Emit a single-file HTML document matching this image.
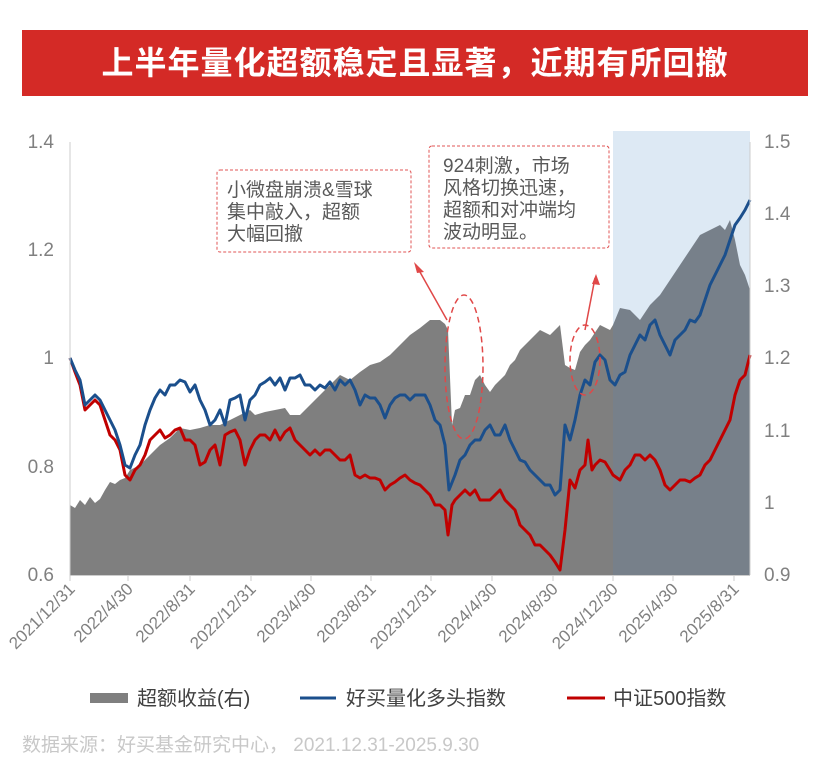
<!DOCTYPE html>
<html><head><meta charset="utf-8"><style>
body{margin:0;background:#fff;width:831px;height:776px;overflow:hidden;font-family:"Liberation Sans","Noto Sans CJK SC",sans-serif;}
.t{position:absolute;left:22px;top:30px;width:786px;height:66px;background:#d42a26;color:#fff;font-size:32px;font-weight:bold;text-align:center;line-height:66px;letter-spacing:1px}
</style></head><body>
<div class="t">上半年量化超额稳定且显著，近期有所回撤</div>
<svg width="831" height="776" style="position:absolute;left:0;top:0" font-family="Liberation Sans, Noto Sans CJK SC, sans-serif">
<rect x="613" y="131" width="137" height="444" fill="#dde9f4"/>
<defs><clipPath id="c1"><rect x="613" y="0" width="200" height="800"/></clipPath><clipPath id="c0"><rect x="0" y="0" width="613" height="800"/></clipPath></defs>
<g id="area">
<polygon clip-path="url(#c0)" fill="#7f7f7f" points="70,575 70,505 75,508 80,500 85,505 90,497 95,503 100,499 105,490 110,482 115,484 120,480 125,478 130,470 140,465 150,455 160,445 170,438 180,428 190,430 200,428 210,425 220,425 230,420 240,415 250,410 255,415 265,412 275,410 285,408 290,415 300,415 310,405 320,395 330,385 340,375 350,380 360,372 370,365 380,362 390,355 400,345 410,335 420,328 430,320 440,320 445,324 448,330 452,425 455,410 460,408 465,395 470,395 475,380 480,375 485,385 490,392 495,385 500,380 505,375 510,365 515,360 520,350 525,345 530,340 540,330 550,335 555,330 560,325 565,365 570,368 575,370 580,352 585,345 590,340 600,325 610,330 613,325 620,308 630,310 640,320 650,305 660,295 670,280 680,265 690,250 700,235 710,230 720,225 725,230 730,220 735,240 740,265 745,275 750,290 750,575"/>
<polygon clip-path="url(#c1)" fill="#77808a" points="70,575 70,505 600,325 610,330 613,325 620,308 630,310 640,320 650,305 660,295 670,280 680,265 690,250 700,235 710,230 720,225 725,230 730,220 735,240 740,265 745,275 750,290 750,575"/>
</g>
<polyline fill="none" stroke="#c00000" stroke-width="3" stroke-linejoin="round" points="70,358 75,372 80,385 85,410 90,405 95,400 100,405 105,420 110,435 115,440 120,450 125,475 130,480 135,470 140,465 145,455 150,440 155,435 160,430 165,438 170,435 175,430 180,428 185,440 190,440 195,445 200,465 205,462 210,450 215,445 220,465 225,435 230,432 235,430 240,440 245,465 250,450 255,440 260,435 265,435 270,440 275,430 280,440 285,432 290,428 295,440 300,445 305,450 310,455 315,450 320,455 325,450 330,450 335,455 340,460 345,460 350,455 355,475 360,478 365,475 370,478 375,478 380,480 385,490 390,485 395,482 400,478 405,475 410,480 415,483 420,485 425,490 430,495 435,505 440,505 445,510 448,535 452,505 455,500 460,495 465,490 470,495 475,490 480,500 485,500 490,500 495,495 500,490 505,500 510,505 515,510 520,525 525,530 530,535 535,545 540,545 545,550 550,555 555,562 560,570 565,530 570,480 575,488 580,470 585,465 588,440 592,470 595,465 600,460 605,462 610,470 613,475 620,480 625,470 630,465 635,455 640,455 645,460 650,455 655,460 660,470 665,485 670,490 675,485 680,480 685,480 690,482 695,478 700,475 705,465 710,460 715,450 720,440 725,430 730,420 735,395 740,380 745,375 750,355"/>
<polyline fill="none" stroke="#1b4f8c" stroke-width="3" stroke-linejoin="round" points="70,358 75,370 80,380 85,405 90,400 95,395 100,400 105,410 110,420 115,430 120,445 125,465 130,468 135,455 140,445 145,425 150,410 155,398 160,390 165,395 170,385 175,385 180,380 185,382 190,392 195,385 200,400 205,410 210,425 215,420 220,410 225,425 230,400 235,398 240,395 245,420 250,400 255,395 260,385 265,382 270,378 275,385 280,378 285,390 290,378 295,378 300,375 305,385 310,385 315,390 320,385 325,388 330,382 335,390 340,380 345,385 350,380 355,390 360,405 365,395 370,398 375,398 380,405 385,418 390,405 395,398 400,395 405,395 410,400 415,395 420,395 425,395 430,405 435,420 440,425 445,445 449,490 455,475 460,460 465,455 470,445 475,440 480,440 485,430 490,425 495,435 500,435 505,425 510,440 515,450 520,460 525,462 530,470 535,475 540,480 545,485 550,485 555,495 560,490 565,425 570,440 575,420 580,395 585,380 590,385 595,362 600,355 605,360 610,380 615,385 620,375 625,372 630,355 635,345 640,335 645,340 650,325 655,320 660,335 665,345 670,355 675,340 680,335 685,330 690,320 695,322 700,315 705,300 710,285 715,275 720,265 725,255 730,240 735,225 740,218 745,210 750,200"/>
<g stroke="#ccc" stroke-width="1"><line x1="70" y1="142" x2="70" y2="575"/><line x1="750" y1="142" x2="750" y2="575"/><line x1="70" y1="575.5" x2="750" y2="575.5"/>
<line x1="70" y1="575" x2="70" y2="581"/><line x1="128" y1="575" x2="128" y2="581"/><line x1="190" y1="575" x2="190" y2="581"/><line x1="251" y1="575" x2="251" y2="581"/><line x1="311" y1="575" x2="311" y2="581"/><line x1="371" y1="575" x2="371" y2="581"/><line x1="431" y1="575" x2="431" y2="581"/><line x1="492" y1="575" x2="492" y2="581"/><line x1="553" y1="575" x2="553" y2="581"/><line x1="613" y1="575" x2="613" y2="581"/><line x1="673" y1="575" x2="673" y2="581"/><line x1="734" y1="575" x2="734" y2="581"/></g>
<g fill="#808080" font-size="19" text-anchor="end">
<text x="54" y="148">1.4</text><text x="54" y="256">1.2</text><text x="54" y="364">1</text><text x="54" y="473">0.8</text><text x="54" y="581">0.6</text></g>
<g fill="#808080" font-size="19">
<text x="764" y="148">1.5</text><text x="764" y="220">1.4</text><text x="764" y="292">1.3</text><text x="764" y="364">1.2</text><text x="764" y="437">1.1</text><text x="764" y="509">1</text><text x="764" y="581">0.9</text></g>
<g fill="#808080" font-size="17" text-anchor="end">
<text transform="translate(76,590) rotate(-45)">2021/12/31</text>
<text transform="translate(134,590) rotate(-45)">2022/4/30</text>
<text transform="translate(196,590) rotate(-45)">2022/8/31</text>
<text transform="translate(257,590) rotate(-45)">2022/12/31</text>
<text transform="translate(317,590) rotate(-45)">2023/4/30</text>
<text transform="translate(377,590) rotate(-45)">2023/8/31</text>
<text transform="translate(437,590) rotate(-45)">2023/12/31</text>
<text transform="translate(498,590) rotate(-45)">2024/4/30</text>
<text transform="translate(559,590) rotate(-45)">2024/8/30</text>
<text transform="translate(619,590) rotate(-45)">2024/12/30</text>
<text transform="translate(679,590) rotate(-45)">2025/4/30</text>
<text transform="translate(740,590) rotate(-45)">2025/8/31</text></g>
<rect x="217" y="170" width="194" height="82" rx="3" fill="#fff" stroke="#e05555" stroke-dasharray="3,2"/>
<g fill="#595959" font-size="19"><text x="227" y="196">小微盘崩溃&amp;雪球</text><text x="227" y="218">集中敲入，超额</text><text x="227" y="240">大幅回撤</text></g>
<rect x="429" y="146" width="180" height="102" rx="3" fill="#fff" stroke="#e05555" stroke-dasharray="3,2"/>
<g fill="#595959" font-size="19"><text x="443" y="172">924刺激，市场</text><text x="443" y="194">风格切换迅速，</text><text x="443" y="216">超额和对冲端均</text><text x="443" y="238">波动明显。</text></g>
<g stroke="#e04848" stroke-width="1.5" fill="none">
<ellipse cx="464" cy="367" rx="19" ry="72" stroke-dasharray="6,4"/>
<ellipse cx="585" cy="360" rx="15" ry="35" stroke-dasharray="6,4"/>
<line x1="447" y1="320" x2="416" y2="265"/><line x1="585" y1="330" x2="595" y2="278"/></g>
<polygon points="414,262 424,272 417,273" fill="#e04848"/><polygon points="596,274 600,285 592,284" fill="#e04848"/>
<rect x="90" y="693" width="38" height="10" fill="#7f7f7f"/>
<line x1="300" y1="698" x2="336" y2="698" stroke="#1b4f8c" stroke-width="3"/>
<line x1="567" y1="698" x2="605" y2="698" stroke="#c00000" stroke-width="3"/>
<g fill="#404040" font-size="20"><text x="137" y="705">超额收益(右)</text><text x="346" y="705">好买量化多头指数</text><text x="613" y="705">中证500指数</text></g>
<text x="22" y="751" fill="#c8c8c8" font-size="19">数据来源：好买基金研究中心， 2021.12.31-2025.9.30</text>
</svg>
</body></html>
